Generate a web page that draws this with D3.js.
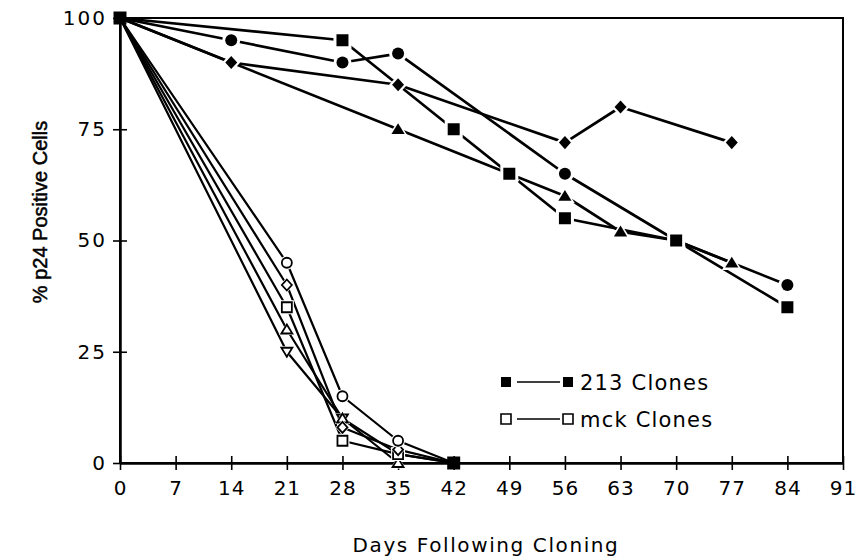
<!DOCTYPE html>
<html>
<head>
<meta charset="utf-8">
<script src="https://cdn.jsdelivr.net/npm/d3@7"></script>
<style>
  body { margin: 0; background: #fff; }
  svg { display: block; }
  text { font-family: "DejaVu Sans", sans-serif; fill: #000; }
</style>
</head>
<body>
<div id="app"></div>
<script>
// day ticks and percent ticks
const dayTicks = [0, 7, 14, 21, 28, 35, 42, 49, 56, 63, 70, 77, 84, 91];
const pctTicks = [0, 25, 50, 75, 100];

// 213 clones (filled markers)
const sqDays = [0, 28, 42, 49, 56, 70, 84];
const sqPct = [100, 95, 75, 65, 55, 50, 35];
const ciDays = [0, 14, 28, 35, 56, 70, 84];
const ciPct = [100, 95, 90, 92, 65, 50, 40];
const diDays = [0, 14, 35, 56, 63, 77];
const diPct = [100, 90, 85, 72, 80, 72];
const trDays = [0, 35, 49, 56, 63, 70, 77];
const trPct = [100, 75, 65, 60, 52, 50, 45];

// mck clones (open markers)
const mckDays = [0, 21, 28, 35, 42];
const mckCircle = [100, 45, 15, 5, 0];
const mckDiamond = [100, 40, 8, 3, 0];
const mckSquare = [100, 35, 5, 2, 0];
const mckTriUp = [100, 30, 10, 0, 0];
const mckTriDown = [100, 25, 10, 2, 0];

const legendLabels = ["213 Clones", "mck Clones"];

// later entries are drawn on top
const series = [
  { days: mckDays, pct: mckTriDown, shape: "triangleDown", filled: false },
  { days: mckDays, pct: mckTriUp, shape: "triangle", filled: false },
  { days: mckDays, pct: mckSquare, shape: "square", filled: false },
  { days: mckDays, pct: mckDiamond, shape: "diamond", filled: false },
  { days: mckDays, pct: mckCircle, shape: "circle", filled: false },
  { days: trDays, pct: trPct, shape: "triangle", filled: true },
  { days: diDays, pct: diPct, shape: "diamond", filled: true },
  { days: ciDays, pct: ciPct, shape: "circle", filled: true },
  { days: sqDays, pct: sqPct, shape: "square", filled: true }
];

const width = 857, height = 560;
const plotLeft = 120, plotRight = 843, plotTop = 18, plotBottom = 463;

const x = d3.scaleLinear().domain([0, 91]).range([plotLeft, plotRight]);
const y = d3.scaleLinear().domain([0, 100]).range([plotBottom, plotTop]);

const svg = d3.select("#app").append("svg")
  .attr("width", width)
  .attr("height", height);

// frame
svg.append("rect")
  .attr("x", plotLeft).attr("y", plotTop)
  .attr("width", plotRight - plotLeft).attr("height", plotBottom - plotTop)
  .attr("fill", "none").attr("stroke", "#000").attr("stroke-width", 2);

const xAxis = d3.axisBottom(x).tickValues(dayTicks).tickSize(7).tickSizeOuter(0).tickPadding(8);
const yAxis = d3.axisLeft(y).tickValues(pctTicks).tickSize(7).tickSizeOuter(0).tickPadding(4);

const gx = svg.append("g").attr("transform", `translate(0,${plotBottom})`).call(xAxis);
const gy = svg.append("g").attr("transform", `translate(${plotLeft},0)`).call(yAxis);

[gx, gy].forEach((g) => {
  g.select(".domain").attr("stroke-width", 2.5);
  g.selectAll(".tick line").attr("stroke-width", 1.6);
  g.selectAll(".tick text")
    .attr("font-family", "DejaVu Sans")
    .style("font-size", "20px");
});
// ticks cross the axis
gx.selectAll(".tick line").attr("y1", -7);
gy.selectAll(".tick line").attr("x1", 7);
gy.selectAll(".tick").filter((d) => d === 0).select("line").attr("x1", 0);
gx.selectAll(".tick text").attr("dy", "0.85em").style("letter-spacing", "1px");
gy.selectAll(".tick text").attr("dx", "-2px").style("letter-spacing", "2px");

// axis titles
svg.append("text")
  .attr("x", 486).attr("y", 552)
  .attr("text-anchor", "middle")
  .style("font-size", "20px")
  .style("letter-spacing", "1.6px")
  .text("Days Following Cloning");

svg.append("text")
  .attr("transform", "translate(47,212) rotate(-90)")
  .attr("text-anchor", "middle")
  .style("font-family", "Liberation Sans")
  .style("font-size", "20px")
  .style("stroke", "#000")
  .style("stroke-width", 0.5)
  .text("% p24 Positive Cells");

function markerPath(shape, r) {
  if (shape === "square") return `M${-r},${-r}H${r}V${r}H${-r}Z`;
  if (shape === "circle") return `M${r},0A${r},${r} 0 1,1 ${-r},0A${r},${r} 0 1,1 ${r},0Z`;
  if (shape === "diamond") return `M0,${-r * 1.1}L${r},0L0,${r * 1.1}L${-r},0Z`;
  if (shape === "triangle") return `M0,${-r}L${r * 1.1},${r * 0.8}L${-r * 1.1},${r * 0.8}Z`;
  return `M0,${r}L${r * 1.1},${-r * 0.8}L${-r * 1.1},${-r * 0.8}Z`;
}

const line = d3.line().x((d) => x(d[0])).y((d) => y(d[1]));

const lines = svg.append("g");
series.forEach((s) => {
  const pts = s.days.map((d, i) => [d, s.pct[i]]);
  lines.append("path")
    .attr("d", line(pts))
    .attr("fill", "none")
    .attr("stroke", "#000")
    .attr("stroke-width", s.filled ? 2.7 : 2.2)
    .attr("stroke-linejoin", "round");
});

// markers (skip shared origin and shared end, drawn after)
const marks = svg.append("g");
series.forEach((s) => {
  const pts = s.days.map((d, i) => [d, s.pct[i]]).filter((p) => p[0] !== 0 && !(p[0] === 42 && p[1] === 0));
  const r = s.filled ? 6 : 5.5;
  marks.selectAll(null).data(pts).enter().append("path")
    .attr("transform", (p) => `translate(${x(p[0])},${y(p[1])})`)
    .attr("d", markerPath(s.shape, r + (s.filled ? 3 : 1.5)))
    .attr("fill", "#fff");
  marks.selectAll(null).data(pts).enter().append("path")
    .attr("transform", (p) => `translate(${x(p[0])},${y(p[1])})`)
    .attr("d", markerPath(s.shape, s.filled ? r : r - 0.5))
    .attr("fill", s.filled ? "#000" : "#fff")
    .attr("stroke", "#000")
    .attr("stroke-width", s.filled ? 0 : 1.8);
});

// shared start and end points read as solid squares
[[0, 100], [42, 0]].forEach((p) => {
  marks.append("path")
    .attr("transform", `translate(${x(p[0])},${y(p[1])})`)
    .attr("d", markerPath("square", 6.5))
    .attr("fill", "#000");
});

// legend
const legend = svg.append("g").attr("transform", "translate(506,382)");
legendLabels.forEach((label, i) => {
  const g = legend.append("g").attr("transform", `translate(0,${i * 37})`);
  g.append("line").attr("x1", 11).attr("x2", 54).attr("y1", 0).attr("y2", 0)
    .attr("stroke", "#000").attr("stroke-width", 1.6);
  [0, 62].forEach((cx) => {
    g.append("path")
      .attr("transform", `translate(${cx},0)`)
      .attr("d", markerPath("square", 5))
      .attr("fill", i === 0 ? "#000" : "#fff")
      .attr("stroke", "#000")
      .attr("stroke-width", i === 0 ? 0 : 1.6);
  });
  g.append("text")
    .attr("x", 74).attr("y", 8)
    .style("font-size", "21px")
    .style("letter-spacing", "1.2px")
    .text(label);
});
</script>
</body>
</html>
